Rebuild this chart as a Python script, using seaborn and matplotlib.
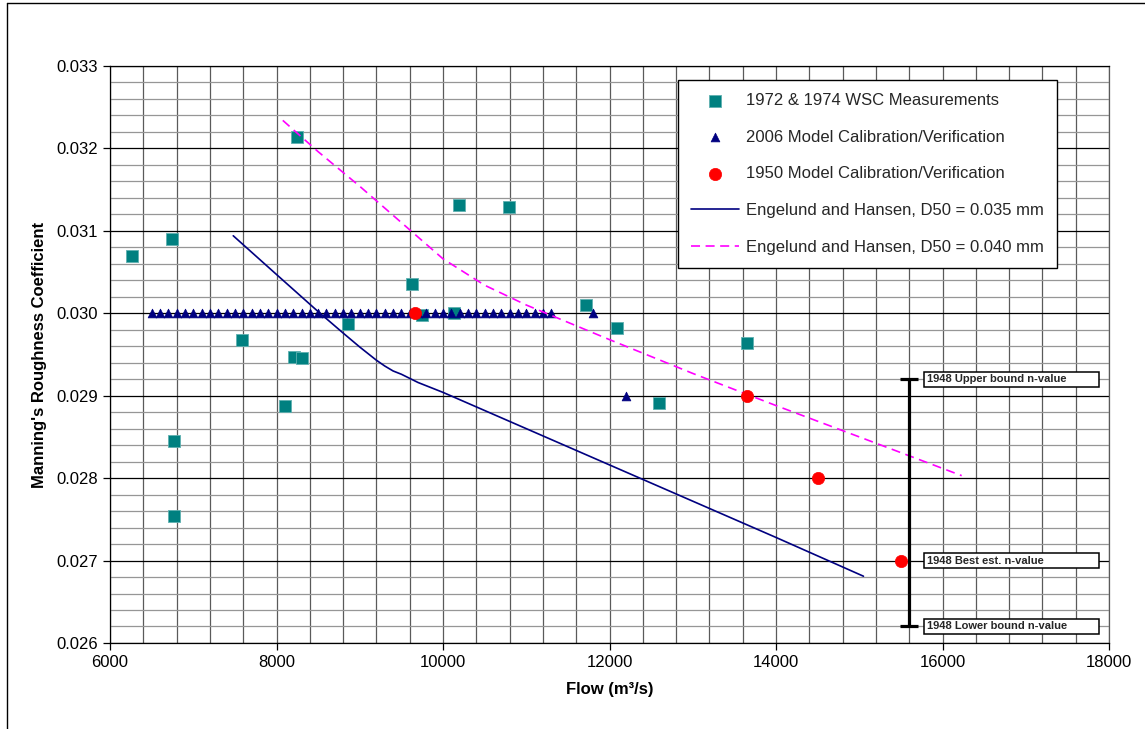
import matplotlib
matplotlib.use('Agg')
import matplotlib.pyplot as plt
import seaborn as sns
import pandas as pd
from matplotlib.ticker import MultipleLocator, FormatStrFormatter
from matplotlib.patches import Rectangle
from matplotlib.lines import Line2D

# --- data ---
wsc_flow = [6265, 6740, 6770, 6770, 7590, 8100, 8215, 8300, 8860, 8245,
            9625, 9745, 10130, 10195, 10795, 11720, 12090, 12600, 13650]
wsc_n = [0.03069, 0.03090, 0.02845, 0.02754, 0.02968, 0.02888, 0.02947, 0.02946, 0.02987, 0.03214,
         0.03036, 0.02998, 0.03000, 0.03131, 0.03129, 0.03010, 0.02982, 0.02891, 0.02964]

model2006_flow = [6500, 6600, 6700, 6800, 6900, 7000, 7100, 7200, 7300, 7400,
                  7500, 7600, 7700, 7800, 7900, 8000, 8100, 8200, 8300, 8400,
                  8500, 8600, 8700, 8800, 8900, 9000, 9100, 9200, 9300, 9400,
                  9500, 9600, 9700, 9800, 9900, 10000, 10100, 10200, 10300, 10400,
                  10500, 10600, 10700, 10800, 10900, 11000, 11100, 11200, 11300,
                  11800, 12200]
model2006_n = [0.030] * 49 + [0.030, 0.029]

model1950_flow = [9660, 13650, 14500, 15500]
model1950_n = [0.030, 0.029, 0.028, 0.027]

eh035_flow = [7480, 8000, 8500, 8800, 9000, 9100, 9200, 9300, 9400, 9500, 9700, 10000,
              11000, 12000, 13000, 14000, 15050]
eh035_n = [0.03094, 0.03047, 0.03002, 0.02976, 0.02959, 0.02951, 0.02943, 0.02936, 0.02930,
           0.02926, 0.02916, 0.02904, 0.02860, 0.02816, 0.02772, 0.02728, 0.02681]

eh040_flow = [8075, 8500, 9000, 9500, 10000, 10500, 11000, 11500, 12000, 13000, 14000, 15000, 16230]
eh040_n = [0.03234, 0.03196, 0.03154, 0.03110, 0.03066, 0.03034, 0.03010, 0.02989, 0.02968,
           0.02927, 0.02888, 0.02850, 0.02803]

bound_flow = 15600
bound_upper = 0.0292
bound_lower = 0.0262
bound_labels = ['1948 Upper bound n-value', '1948 Best est. n-value', '1948 Lower bound n-value']
bound_label_n = [0.0292, 0.0270, 0.0262]

legend_labels = ['1972 & 1974 WSC Measurements',
                 '2006 Model Calibration/Verification',
                 '1950 Model Calibration/Verification',
                 'Engelund and Hansen, D50 = 0.035 mm',
                 'Engelund and Hansen, D50 = 0.040 mm']

sns.set_theme(style='white')
plt.rcParams['font.family'] = ['Liberation Sans', 'DejaVu Sans']
plt.rcParams['lines.scale_dashes'] = False

fig = plt.figure(figsize=(11.45, 7.29), dpi=100)
ax = fig.add_axes([0.0961, 0.118, 0.8725, 0.7915])

df_wsc = pd.DataFrame({'flow': wsc_flow, 'n': wsc_n})
df_2006 = pd.DataFrame({'flow': model2006_flow, 'n': model2006_n})
df_1950 = pd.DataFrame({'flow': model1950_flow, 'n': model1950_n})
df_035 = pd.DataFrame({'flow': eh035_flow, 'n': eh035_n})
df_040 = pd.DataFrame({'flow': eh040_flow, 'n': eh040_n})

handles = []
sns.scatterplot(data=df_wsc, x='flow', y='n', marker='s', s=72, color='#008080',
                edgecolor='#5fb0b0', linewidth=0.6, ax=ax, zorder=3)
handles.append(ax.collections[-1])
sns.scatterplot(data=df_2006, x='flow', y='n', marker='^', s=40, color='#000080',
                edgecolor='#000080', linewidth=0.5, ax=ax, zorder=4)
handles.append(ax.collections[-1])
sns.scatterplot(data=df_1950, x='flow', y='n', marker='o', s=78, color='#ff0000',
                edgecolor='#ff0000', linewidth=0.5, ax=ax, zorder=6)
handles.append(ax.collections[-1])
sns.lineplot(data=df_035, x='flow', y='n', color='#000080', linewidth=1.2,
             sort=False, estimator=None, ax=ax, zorder=5)
handles.append(ax.lines[-1])
sns.lineplot(data=df_040, x='flow', y='n', color='#ff00ff', linewidth=1.2,
             sort=False, estimator=None, ax=ax, zorder=5)
ax.lines[-1].set_dashes([6.5, 4])
handles.append(ax.lines[-1])

# 1948 bound bar
mid = (bound_upper + bound_lower) / 2
half = (bound_upper - bound_lower) / 2
ax.errorbar([bound_flow], [mid], yerr=[[half], [half]], fmt='none', ecolor='black',
            elinewidth=2.3, capsize=6.7, capthick=2.3, zorder=5)

for lab, yv in zip(bound_labels, bound_label_n):
    ax.add_patch(Rectangle((15780, yv - 0.00009), 2100, 0.00018, facecolor='white',
                           edgecolor='black', linewidth=1.1, zorder=7, clip_on=False))
    ax.text(15810, yv, lab, fontsize=8, fontweight='bold', va='center', ha='left', zorder=8)

ax.set_xlim(6000, 18000)
ax.set_ylim(0.026, 0.033)
ax.xaxis.set_major_locator(MultipleLocator(2000))
ax.xaxis.set_minor_locator(MultipleLocator(400))
ax.yaxis.set_major_locator(MultipleLocator(0.001))
ax.yaxis.set_minor_locator(MultipleLocator(0.0002))
ax.yaxis.set_major_formatter(FormatStrFormatter('%.3f'))
ax.xaxis.set_major_formatter(FormatStrFormatter('%d'))

ax.set_axisbelow(True)
ax.grid(which='major', axis='y', color='black', linewidth=0.9)
ax.grid(which='minor', axis='y', color='#969696', linewidth=0.9)
ax.grid(which='both', axis='x', color='#5a5a5a', linewidth=0.9)

ax.tick_params(which='major', direction='out', length=5, width=0.9, color='black',
               bottom=True, left=True, labelsize=12, labelcolor='black')
ax.tick_params(which='minor', length=0)
for s in ax.spines.values():
    s.set_color('black')
    s.set_linewidth(0.9)
ax.spines['right'].set_color('#5a5a5a')

ax.set_xlabel('Flow (m³/s)', fontsize=12, fontweight='bold', labelpad=9, color='black')
ax.set_ylabel("Manning's Roughness Coefficient", fontsize=12, fontweight='bold', labelpad=7, color='black')

leg = ax.legend(handles, legend_labels, loc='upper right', bbox_to_anchor=(0.948, 0.976),
                frameon=True, fancybox=False, edgecolor='black', framealpha=1, fontsize=12,
                labelspacing=1.3, handlelength=2.9, handletextpad=0.4, borderpad=0.8,
                borderaxespad=0)
leg.get_frame().set_linewidth(1.0)
leg.set_zorder(9)

# outer chart frame (left and top edges)
fig.add_artist(Line2D([7 / 1145, 7 / 1145], [0, 1 - 3 / 729], transform=fig.transFigure,
                      color='black', linewidth=1.0))
fig.add_artist(Line2D([7 / 1145, 1], [1 - 3 / 729, 1 - 3 / 729], transform=fig.transFigure,
                      color='black', linewidth=1.0))

fig.savefig('out.png', dpi=100)
